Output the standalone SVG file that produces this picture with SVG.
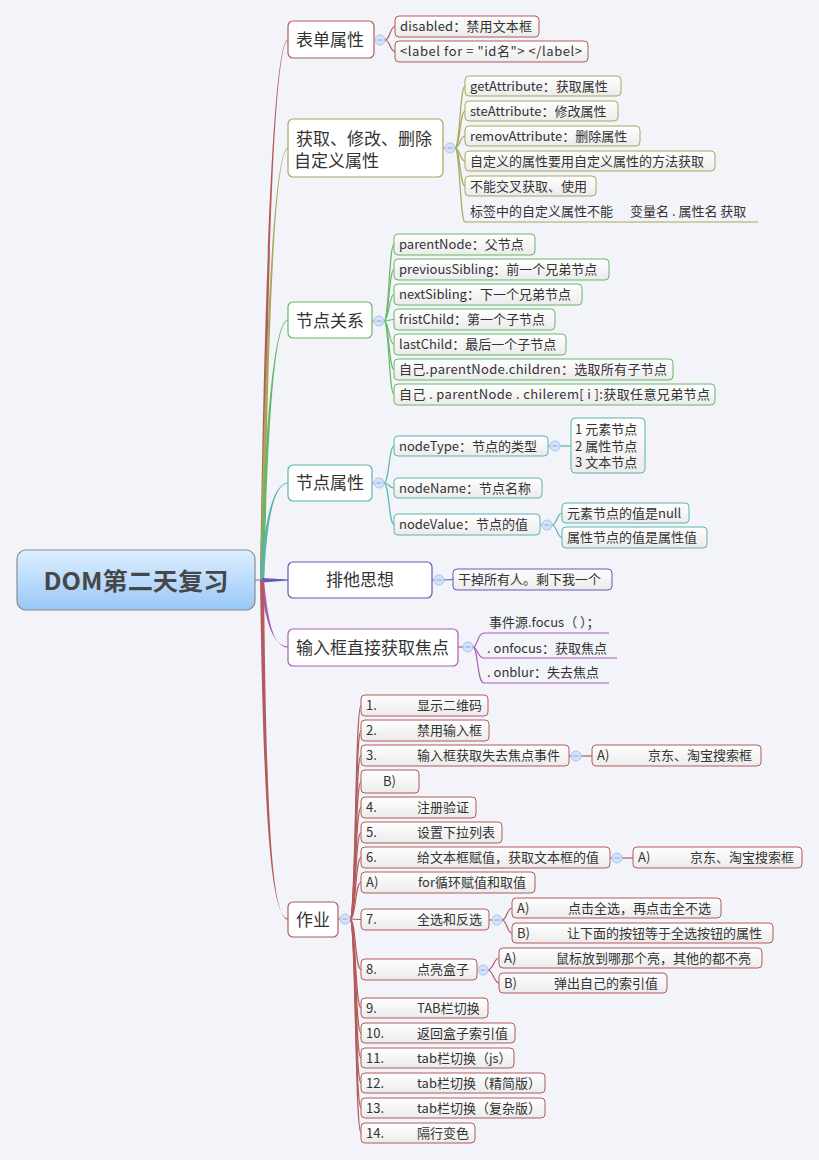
<svg xmlns="http://www.w3.org/2000/svg" xmlns:xlink="http://www.w3.org/1999/xlink" width="819" height="1160" viewBox="0 0 819 1160">
<defs>
<linearGradient id="rootg" x1="0" y1="0" x2="0" y2="1"><stop offset="0" stop-color="#deefff"/><stop offset="1" stop-color="#98c8f8"/></linearGradient>
<linearGradient id="subg" x1="0" y1="0" x2="0" y2="1"><stop offset="0" stop-color="#ffffff"/><stop offset="1" stop-color="#ebebeb"/></linearGradient>
<g id="col"><circle r="5" fill="#d4e3fb" stroke="#a8c2ec" stroke-width="1"/><line x1="-2.5" y1="0" x2="2.5" y2="0" stroke="#8aa6d6" stroke-width="1"/></g>
</defs>
<style>
text{font-family:"Noto Sans CJK SC","Noto Sans",sans-serif;fill:#333}
.t13{font-size:13px}
.t17{font-size:17px}
.main{fill:#fff;stroke-width:1.2}
.sub{fill:url(#subg);stroke-width:1}
.red{stroke:#b35b5b}.olive{stroke:#aaa65a}.green{stroke:#66b866}.teal{stroke:#5bb3ad}.purple{stroke:#6359b5}.mag{stroke:#ad5cb5}
.cn{fill:none;stroke-width:1.2}
</style>
<rect width="819" height="1160" fill="#f2f4f9"/>

<g id="connectors">
<line x1="255" y1="580" x2="262" y2="580" stroke="#888" stroke-width="1.2"/>
<path d="M260,580 C263.5,350 271,41.5 288,39.4 L288,40.6 C271.8,42.5 266.5,350 264,580 Z" fill="#b35b5b"/>
<path d="M260,580 C264.5,380 272,149.5 288,147.4 L288,148.6 C272.8,150.5 267.5,380 264,580 Z" fill="#aaa65a"/>
<path d="M260,580 C264.5,450 272,320.5 288,319.4 L288,320.6 C272.8,321.5 267.5,450 264,580 Z" fill="#66b866"/>
<path d="M260,580 C263.5,530 271,483.5 288,482.4 L288,483.6 C271.8,484.5 266.5,530 264,580 Z" fill="#5bb3ad"/>
<path d="M262,578 L288,579.5 L288,580.6 L262,582.5 Z" fill="#6359b5"/>
<path d="M260,580 C264.5,615 271,646.5 288,646.4 L288,647.6 C271.8,647.5 267.5,615 264,580 Z" fill="#ad5cb5"/>
<path d="M260,580 C263.5,820 271,917.5 288,918.4 L288,919.6 C271.8,918.5 266.5,820 264,580 Z" fill="#b35b5b"/>

<g class="cn red">
<path d="M374,40 L375,40"/>
<path d="M385,40 C390,40 390,26.5 395,26.5"/>
<path d="M385,40 C390,40 390,51.5 395,51.5"/>
</g>
<g class="cn olive">
<path d="M443,148 L445,148"/>
<path d="M455,148 C460,148 460,86 465,86"/>
<path d="M455,148 C460,148 460,111 465,111"/>
<path d="M455,148 C460,148 460,136 465,136"/>
<path d="M455,148 C460,148 460,161 465,161"/>
<path d="M455,148 C460,148 460,186 465,186"/>
<path d="M455,148 C460,148 460,222 465,222 L758,222"/>
</g>
<g class="cn green">
<path d="M372,321 L374,321"/>
<path d="M384,321 C389,321 389,244.5 394,244.5"/>
<path d="M384,321 C389,321 389,269.5 394,269.5"/>
<path d="M384,321 C389,321 389,294.5 394,294.5"/>
<path d="M384,321 C389,321 389,319.5 394,319.5"/>
<path d="M384,321 C389,321 389,344.5 394,344.5"/>
<path d="M384,321 C389,321 389,369.5 394,369.5"/>
<path d="M384,321 C389,321 389,394.5 394,394.5"/>
</g>
<g class="cn teal">
<path d="M372,483 L374,483"/>
<path d="M384,483 C389,483 389,446 394,446"/>
<path d="M384,483 C389,483 389,488 394,488"/>
<path d="M384,483 C389,483 389,524.5 394,524.5"/>
<path d="M548,446 L550,446"/>
<path d="M560,446 L571,446"/>
<path d="M540,525 L542,525"/>
<path d="M552,525 C557,525 557,513 562,513"/>
<path d="M552,525 C557,525 557,537.5 562,537.5"/>
</g>
<g class="cn purple">
<path d="M432,580 L434,580"/>
<path d="M444,580 L453,579.5"/>
</g>
<g class="cn mag">
<path d="M458,647 L463,647"/>
<path d="M473,647 C478,647 477,633 484,633 L609,633"/>
<path d="M473,647 C478,647 477,658 484,658 L617,658"/>
<path d="M473,647 C478,647 477,683 484,683 L609,683"/>
</g>
<g class="cn red">
<path d="M338,919 L340,919"/>
<path d="M350,919 C356,919 355,705.5 361,705.5"/>
<path d="M350,919 C356,919 355,730.5 361,730.5"/>
<path d="M350,919 C356,919 355,755.5 361,755.5"/>
<path d="M350,919 C356,919 355,781.5 361,781.5"/>
<path d="M350,919 C356,919 355,807.5 361,807.5"/>
<path d="M350,919 C356,919 355,832.5 361,832.5"/>
<path d="M350,919 C356,919 355,857.5 361,857.5"/>
<path d="M350,919 C356,919 355,882.5 361,882.5"/>
<path d="M350,919 C356,919 355,919.5 361,919.5"/>
<path d="M350,919 C356,919 355,969.5 361,969.5"/>
<path d="M350,919 C356,919 355,1008 361,1008"/>
<path d="M350,919 C356,919 355,1033 361,1033"/>
<path d="M350,919 C356,919 355,1058 361,1058"/>
<path d="M350,919 C356,919 355,1083 361,1083"/>
<path d="M350,919 C356,919 355,1108 361,1108"/>
<path d="M350,919 C356,919 355,1133 361,1133"/>
<path d="M569,756 L571,756"/>
<path d="M581,756 L592,756"/>
<path d="M610,858 L612,858"/>
<path d="M622,858 L633,858"/>
<path d="M489,920 L492,920"/>
<path d="M502,920 C507,920 507,908 512,908"/>
<path d="M502,920 C507,920 507,933 512,933"/>
<path d="M477,970 L478,970"/>
<path d="M488,970 C493,970 494,958 499,958"/>
<path d="M488,970 C493,970 494,983 499,983"/>
</g>
</g>

<g id="root">
<rect x="17" y="550" width="238" height="60" rx="9" fill="url(#rootg)" stroke="#8a8a8a" stroke-width="1.2"/>
<text x="136" y="589.5" text-anchor="middle" textLength="185" lengthAdjust="spacingAndGlyphs" style="font-size:24px;font-weight:bold;fill:#474747">DOM第二天复习</text>
</g>

<g id="n-biaodan">
<rect class="main red" x="288" y="21" width="86" height="37" rx="5"/>
<text class="t17" x="296" y="46">表单属性</text>
<use xlink:href="#col" x="380" y="40"/>
<rect class="sub red" x="395" y="16" width="144" height="21" rx="4"/>
<text class="t13" x="400" y="31" textLength="132">disabled：禁用文本框</text>
<rect class="sub red" x="395" y="41" width="193" height="21" rx="4"/>
<text class="t13" x="400" y="56" textLength="182">&lt;label for = "id名"&gt; &lt;/label&gt;</text>
</g>

<g id="n-zidingyi">
<rect class="main olive" x="288" y="119" width="155" height="58" rx="5"/>
<text class="t17" x="296" y="144.5">获取、修改、删除</text>
<text class="t17" x="294" y="167">自定义属性</text>
<use xlink:href="#col" x="450" y="148"/>
<rect class="sub olive" x="465" y="76" width="156" height="20" rx="4"/>
<text class="t13" x="470" y="90.5">getAttribute：获取属性</text>
<rect class="sub olive" x="465" y="101" width="153" height="20" rx="4"/>
<text class="t13" x="470" y="115.5">steAttribute：修改属性</text>
<rect class="sub olive" x="465" y="126" width="175" height="20" rx="4"/>
<text class="t13" x="470" y="140.5">removAttribute：删除属性</text>
<rect class="sub olive" x="465" y="151" width="250" height="20" rx="4"/>
<text class="t13" x="470" y="165.5">自定义的属性要用自定义属性的方法获取</text>
<rect class="sub olive" x="465" y="176" width="131" height="20" rx="4"/>
<text class="t13" x="470" y="190.5">不能交叉获取、使用</text>
<text class="t13" x="470" y="216">标签中的自定义属性不能<tspan x="630">变量名 . 属性名 获取</tspan></text>
</g>

<g id="n-guanxi">
<rect class="main green" x="288" y="302" width="84" height="36" rx="5"/>
<text class="t17" x="296" y="327">节点关系</text>
<use xlink:href="#col" x="379" y="321"/>
<rect class="sub green" x="394" y="234" width="141" height="21" rx="4"/>
<text class="t13" x="399" y="249">parentNode：父节点</text>
<rect class="sub green" x="394" y="259" width="215" height="21" rx="4"/>
<text class="t13" x="399" y="274">previousSibling：前一个兄弟节点</text>
<rect class="sub green" x="394" y="284" width="188" height="21" rx="4"/>
<text class="t13" x="399" y="299">nextSibling：下一个兄弟节点</text>
<rect class="sub green" x="394" y="309" width="161" height="21" rx="4"/>
<text class="t13" x="399" y="324">fristChild：第一个子节点</text>
<rect class="sub green" x="394" y="334" width="172" height="21" rx="4"/>
<text class="t13" x="399" y="349">lastChild：最后一个子节点</text>
<rect class="sub green" x="394" y="359" width="279" height="21" rx="4"/>
<text class="t13" x="399" y="374" textLength="268">自己.parentNode.children：选取所有子节点</text>
<rect class="sub green" x="394" y="384" width="321" height="21" rx="4"/>
<text class="t13" x="399" y="399" textLength="311">自己 . parentNode . chilerem[ i ]:获取任意兄弟节点</text>
</g>

<g id="n-shuxing">
<rect class="main teal" x="288" y="465" width="84" height="36" rx="5"/>
<text class="t17" x="296" y="489">节点属性</text>
<use xlink:href="#col" x="379" y="483"/>
<rect class="sub teal" x="394" y="436" width="154" height="20" rx="4"/>
<text class="t13" x="399" y="450.5">nodeType：节点的类型</text>
<use xlink:href="#col" x="555" y="446"/>
<rect class="sub teal" x="571" y="418" width="74" height="55" rx="4"/>
<text class="t13" x="575" y="434">1 元素节点</text>
<text class="t13" x="575" y="450.5">2 属性节点</text>
<text class="t13" x="575" y="467">3 文本节点</text>
<rect class="sub teal" x="394" y="478" width="148" height="20" rx="4"/>
<text class="t13" x="399" y="492.5">nodeName：节点名称</text>
<rect class="sub teal" x="394" y="514" width="146" height="21" rx="4"/>
<text class="t13" x="399" y="529">nodeValue：节点的值</text>
<use xlink:href="#col" x="547" y="525"/>
<rect class="sub teal" x="562" y="503" width="127" height="20" rx="4"/>
<text class="t13" x="567" y="517.5">元素节点的值是null</text>
<rect class="sub teal" x="562" y="527" width="145" height="21" rx="4"/>
<text class="t13" x="567" y="542">属性节点的值是属性值</text>
</g>

<g id="n-paita">
<rect class="main purple" x="288" y="562" width="144" height="36" rx="5"/>
<text class="t17" x="360" y="586" text-anchor="middle">排他思想</text>
<use xlink:href="#col" x="439" y="580"/>
<rect class="sub purple" x="453" y="569" width="159" height="21" rx="4"/>
<text class="t13" x="458" y="584">干掉所有人。剩下我一个</text>
</g>

<g id="n-jiaodian">
<rect class="main mag" x="288" y="629" width="170" height="37" rx="5"/>
<text class="t17" x="296" y="654">输入框直接获取焦点</text>
<use xlink:href="#col" x="468" y="647"/>
<text class="t13" x="489" y="626.5">事件源.focus（ ）；</text>
<text class="t13" x="487" y="652.5">. onfocus：获取焦点</text>
<text class="t13" x="487" y="676.5">. onblur：失去焦点</text>
</g>

<g id="n-zuoye">
<rect class="main red" x="288" y="902" width="50" height="35" rx="5"/>
<text class="t17" x="296" y="926">作业</text>
<use xlink:href="#col" x="345" y="919"/>

<rect class="sub red" x="361" y="695" width="127" height="21" rx="4"/>
<text class="t13" x="366" y="710">1.<tspan x="417">显示二维码</tspan></text>
<rect class="sub red" x="361" y="720" width="128" height="21" rx="4"/>
<text class="t13" x="366" y="735">2.<tspan x="417">禁用输入框</tspan></text>
<rect class="sub red" x="361" y="745" width="208" height="21" rx="4"/>
<text class="t13" x="366" y="760">3.<tspan x="417">输入框获取失去焦点事件</tspan></text>
<use xlink:href="#col" x="576" y="756"/>
<rect class="sub red" x="592" y="745" width="169" height="21" rx="4"/>
<text class="t13" x="597" y="760">A)<tspan x="648">京东、淘宝搜索框</tspan></text>
<rect class="sub red" x="361" y="770" width="58" height="23" rx="4"/>
<text class="t13" x="383" y="786">B)</text>
<rect class="sub red" x="361" y="797" width="115" height="21" rx="4"/>
<text class="t13" x="366" y="812">4.<tspan x="417">注册验证</tspan></text>
<rect class="sub red" x="361" y="822" width="141" height="21" rx="4"/>
<text class="t13" x="366" y="837">5.<tspan x="417">设置下拉列表</tspan></text>
<rect class="sub red" x="361" y="847" width="249" height="21" rx="4"/>
<text class="t13" x="366" y="862">6.<tspan x="417">给文本框赋值，获取文本框的值</tspan></text>
<use xlink:href="#col" x="617" y="858"/>
<rect class="sub red" x="633" y="847" width="169" height="21" rx="4"/>
<text class="t13" x="638" y="862">A)<tspan x="690">京东、淘宝搜索框</tspan></text>
<rect class="sub red" x="361" y="872" width="174" height="21" rx="4"/>
<text class="t13" x="366" y="887">A)<tspan x="418">for循环赋值和取值</tspan></text>
<rect class="sub red" x="361" y="909" width="128" height="21" rx="4"/>
<text class="t13" x="366" y="924">7.<tspan x="417">全选和反选</tspan></text>
<use xlink:href="#col" x="497" y="920"/>
<rect class="sub red" x="512" y="898" width="209" height="20" rx="4"/>
<text class="t13" x="517" y="912.5">A)<tspan x="568">点击全选，再点击全不选</tspan></text>
<rect class="sub red" x="512" y="923" width="261" height="20" rx="4"/>
<text class="t13" x="517" y="937.5">B)<tspan x="567">让下面的按钮等于全选按钮的属性</tspan></text>
<rect class="sub red" x="361" y="959" width="116" height="21" rx="4"/>
<text class="t13" x="366" y="974">8.<tspan x="417">点亮盒子</tspan></text>
<use xlink:href="#col" x="483" y="970"/>
<rect class="sub red" x="499" y="948" width="263" height="20" rx="4"/>
<text class="t13" x="504" y="962.5">A)<tspan x="556">鼠标放到哪那个亮，其他的都不亮</tspan></text>
<rect class="sub red" x="499" y="973" width="168" height="20" rx="4"/>
<text class="t13" x="504" y="987.5">B)<tspan x="554">弹出自己的索引值</tspan></text>
<rect class="sub red" x="361" y="998" width="127" height="20" rx="4"/>
<text class="t13" x="366" y="1012.5">9.<tspan x="417">TAB栏切换</tspan></text>
<rect class="sub red" x="361" y="1023" width="154" height="20" rx="4"/>
<text class="t13" x="366" y="1037.5">10.<tspan x="417">返回盒子索引值</tspan></text>
<rect class="sub red" x="361" y="1048" width="153" height="20" rx="4"/>
<text class="t13" x="366" y="1062.5">11.<tspan x="417">tab栏切换（js）</tspan></text>
<rect class="sub red" x="361" y="1073" width="184" height="20" rx="4"/>
<text class="t13" x="366" y="1087.5">12.<tspan x="417">tab栏切换（精简版）</tspan></text>
<rect class="sub red" x="361" y="1098" width="184" height="20" rx="4"/>
<text class="t13" x="366" y="1112.5">13.<tspan x="417">tab栏切换（复杂版）</tspan></text>
<rect class="sub red" x="361" y="1123" width="114" height="20" rx="4"/>
<text class="t13" x="366" y="1137.5">14.<tspan x="417">隔行变色</tspan></text>
</g>
</svg>
